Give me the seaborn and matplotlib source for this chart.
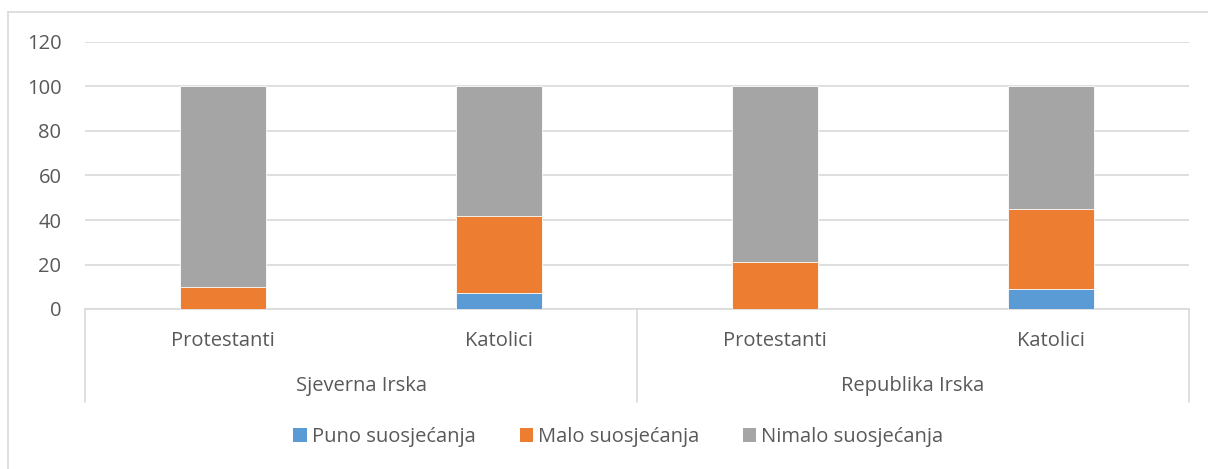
import matplotlib
matplotlib.use("Agg")
import matplotlib.pyplot as plt
import seaborn as sns
import pandas as pd
import numpy as np
from matplotlib.patches import Patch
from matplotlib.lines import Line2D

groups = ["Sjeverna Irska", "Sjeverna Irska", "Republika Irska", "Republika Irska"]
subcats = ["Protestanti", "Katolici", "Protestanti", "Katolici"]
group_names = ["Sjeverna Irska", "Republika Irska"]
series = ["Puno suosjećanja", "Malo suosjećanja", "Nimalo suosjećanja"]
puno = [0, 7, 0, 9]
malo = [10, 35, 21, 36]
nimalo = [90, 58, 79, 55]
colors = ["#5B9BD5", "#ED7D31", "#A5A5A5"]

sns.set_theme(style="white")
plt.rcParams["font.family"] = ["Open Sans", "DejaVu Sans"]
txt = "#595959"
fs = 14.5

keys = [f"{g}|{s}" for g, s in zip(groups, subcats)]
df = pd.DataFrame({"key": keys, "puno": puno, "malo": malo, "nimalo": nimalo})
df["c1"] = df["puno"]
df["c2"] = df["puno"] + df["malo"]
df["c3"] = df["c2"] + df["nimalo"]

fig = plt.figure(figsize=(12.08, 4.69), dpi=100)
ax = fig.add_axes([85/1208, 1-309/469, (1189-85)/1208, (309-42)/469])

for col, c in zip(["c3", "c2", "c1"], colors[::-1]):
    sns.barplot(data=df, x="key", y=col, order=keys, color=c, width=0.31,
                saturation=1, ax=ax, edgecolor="white", linewidth=0.6, zorder=3)

ax.set_ylim(0, 120)
ax.set_xlim(-0.5, 3.5)
ax.set_yticks(np.arange(0, 121, 20))
ax.yaxis.grid(True, color="#d9d9d9", linewidth=1.2, zorder=0)
ax.set_axisbelow(True)
ax.tick_params(axis="y", labelsize=fs, colors=txt, length=0, pad=17)
ax.set_xticks([])
ax.set_xlabel("")
ax.set_ylabel("")
for s in ["left", "right", "top"]:
    ax.spines[s].set_visible(False)
ax.spines["bottom"].set_color("#d9d9d9")
ax.spines["bottom"].set_linewidth(1.2)

ah = 309 - 42
def yax(py):
    return (309 - py) / ah

for i, s in enumerate(subcats):
    ax.text(i, yax(341), s, transform=ax.get_xaxis_transform(), ha="center", va="center",
            fontsize=fs, color=txt)
for j, g in enumerate(group_names):
    ax.text(2*j + 0.5, yax(386), g, transform=ax.get_xaxis_transform(), ha="center",
            va="center", fontsize=fs, color=txt)
for xv in [-0.5, 1.5, 3.5]:
    ax.add_line(Line2D([xv, xv], [0, yax(402)], transform=ax.get_xaxis_transform(),
                       color="#d9d9d9", linewidth=1.2, clip_on=False))

# outer chart border (left and top visible)
fig.add_artist(Line2D([8/1208, 8/1208], [0, 1-12/469], transform=fig.transFigure,
                      color="#d9d9d9", linewidth=1.2))
fig.add_artist(Line2D([8/1208, 1], [1-12/469, 1-12/469], transform=fig.transFigure,
                      color="#d9d9d9", linewidth=1.2))

handles = [Patch(facecolor=c, edgecolor="none") for c in colors]
fig.legend(handles, series, loc="center", bbox_to_anchor=(0.512, 1-437/469), ncol=3,
           frameon=False, fontsize=fs, labelcolor=txt, handlelength=0.65, handleheight=0.65,
           handletextpad=0.25, columnspacing=2.2)

fig.savefig("out.png", dpi=100)
